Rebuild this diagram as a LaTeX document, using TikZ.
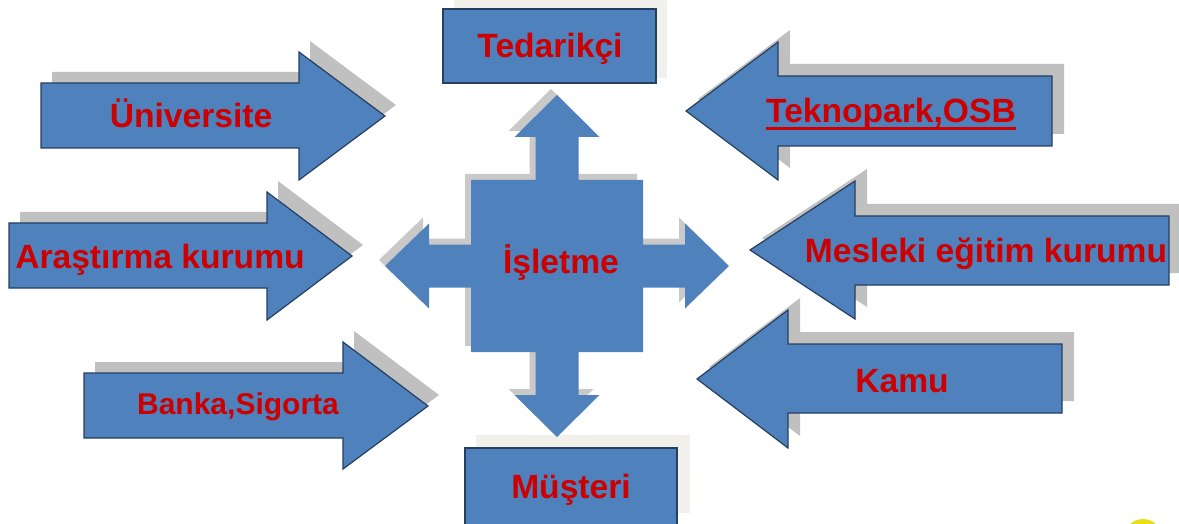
\documentclass[tikz,border=0pt]{standalone}
\usepackage{fontspec}
\setmainfont{Liberation Sans}
\usetikzlibrary{calc,shadows}
\definecolor{blockblue}{HTML}{4F81BD}
\definecolor{blockline}{HTML}{243F60}
\definecolor{shadowgray}{HTML}{C0C0C0}
\definecolor{boxshade}{HTML}{F2F0EB}
\definecolor{lblred}{HTML}{CC0000}

\begin{document}
\begin{tikzpicture}[x=1pt,y=-1pt,
    block/.style={fill=blockblue, draw=blockline, line width=1.2pt},
    rshade/.style={drop shadow={shadow xshift=11pt, shadow yshift=11pt, fill=shadowgray, opacity=1}},
    lshade/.style={drop shadow={shadow xshift=12pt, shadow yshift=12pt, fill=shadowgray, opacity=1}},
    lbl/.style={font=\bfseries\fontsize{33.6}{36}\selectfont, text=lblred, inner sep=0pt, anchor=base}]
    \useasboundingbox (0,0) rectangle (1179,524);
    \clip (0,0) rectangle (1179,524);

    % boxes top and bottom
    \fill[boxshade] (454,0) rectangle (667,78);
    \draw[block] (443,9) rectangle (656,83);
    \fill[boxshade] (476,435) rectangle (690,513);
    \draw[block] (465,448) rectangle (677,530);

    % arrows from the left
    \draw[block, rshade] (41,83) -- (299,83) -- (299,52) -- (385,116) -- (299,180) -- (299,148) -- (41,148) -- cycle;
    \draw[block, rshade] (9,223) -- (267,223) -- (267,192) -- (352,256) -- (267,320) -- (267,288) -- (9,288) -- cycle;
    \draw[block, rshade] (84,373) -- (343,373) -- (343,342) -- (428,406) -- (343,469) -- (343,438) -- (84,438) -- cycle;

    % arrows from the right
    \draw[block, lshade] (686,111) -- (778,42) -- (778,76) -- (1052,76) -- (1052,146) -- (778,146) -- (778,180) -- cycle;
    \draw[block, lshade] (750,250) -- (855,181) -- (855,216) -- (1169,216) -- (1169,285) -- (855,285) -- (855,319) -- cycle;
    \draw[block, lshade] (697,379) -- (788,310) -- (788,344) -- (1062,344) -- (1062,413) -- (788,413) -- (788,448) -- cycle;

    % cross in the middle
    \begin{scope}[shift={(557,266)}]
        \fill[blockblue, drop shadow={shadow xshift=-6pt, shadow yshift=6pt, fill=shadowgray!85, opacity=1}]
            (0,-171) -- (42.5,-129) -- (21.5,-129) -- (21.5,-86) -- (86,-86) -- (86,-21.5) -- (128,-21.5) -- (128,-42.5)
            -- (172,0) -- (128,42.5) -- (128,21.5) -- (86,21.5) -- (86,86) -- (21.5,86) -- (21.5,129) -- (42.5,129)
            -- (0,171) -- (-42.5,129) -- (-21.5,129) -- (-21.5,86) -- (-86,86) -- (-86,21.5) -- (-128,21.5) -- (-128,42.5)
            -- (-172,0) -- (-128,-42.5) -- (-128,-21.5) -- (-86,-21.5) -- (-86,-86) -- (-21.5,-86) -- (-21.5,-129) -- (-42.5,-129) -- cycle;
    \end{scope}

    % labels
    \node[lbl] (tedarikci) at (550,58) {Tedarikçi};
    \node[lbl] (musteri) at (571,498) {Müşteri};
    \node[lbl] (isletme) at (561,273) {İşletme};
    \node[lbl] (universite) at (191,128) {Üniversite};
    \node[lbl] (arastirma) at (160,268) {Araştırma kurumu};
    \node[lbl, font=\bfseries\fontsize{30}{33}\selectfont] (banka) at (238,414) {Banka,Sigorta};
    \node[lbl] (teknopark) at (891,123) {Teknopark,OSB};
    \draw[lblred, line width=3pt] ($(teknopark.base west)+(0,6)$) -- ($(teknopark.base east)+(0,6)$);
    \node[lbl] (mesleki) at (986,262) {Mesleki eğitim kurumu};
    \node[lbl] (kamu) at (902,392) {Kamu};

    % yellow spot at the corner
    \fill[yellow!90!black] (1143,538) circle (19);
\end{tikzpicture}
\end{document}
